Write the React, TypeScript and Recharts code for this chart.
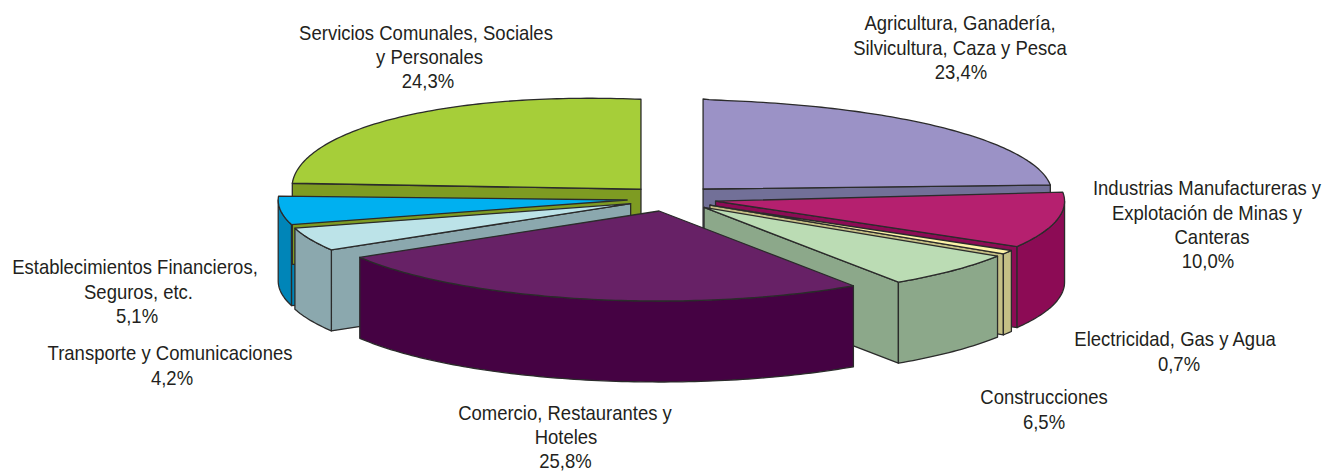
import React from "react";
import { PieChart, Pie } from "recharts";

const categories = [
  "Agricultura, Ganadería, Silvicultura, Caza y Pesca",
  "Industrias Manufactureras y Explotación de Minas y Canteras",
  "Electricidad, Gas y Agua",
  "Construcciones",
  "Comercio, Restaurantes y Hoteles",
  "Transporte y Comunicaciones",
  "Establecimientos Financieros, Seguros, etc.",
  "Servicios Comunales, Sociales y Personales",
];
const values = [23.4, 10.0, 0.7, 6.5, 25.8, 4.2, 5.1, 24.3];
const valueLabels = ["23,4%", "10,0%", "0,7%", "6,5%", "25,8%", "4,2%", "5,1%", "24,3%"];
const labelLines = [
  ["Agricultura, Ganadería,", "Silvicultura, Caza y Pesca"],
  ["Industrias Manufactureras y", "Explotación de Minas y", "Canteras"],
  ["Electricidad, Gas y Agua"],
  ["Construcciones"],
  ["Comercio, Restaurantes y", "Hoteles"],
  ["Transporte y Comunicaciones"],
  ["Establecimientos Financieros,", "Seguros, etc."],
  ["Servicios Comunales, Sociales", "y Personales"],
];
const topColors = ["#9b92c6", "#b5206f", "#fdf3a8", "#bbdcb4", "#672166", "#bce3e8", "#00b0f0", "#a6ce39"];
const sideColors = ["#727098", "#8c0b55", "#c4bf85", "#8ca88a", "#450243", "#8ba8ae", "#0085b8", "#7e9b22"];

const labelAnchors = [
  [960, 30.5], [1207, 195.5], [1175, 346.5], [1044, 404.5], [565, 420], [170, 360.5], [135, 274.5], [426, 40],
];
const lineShifts = [
  [0, 0, 1],
  [0, 0, 5, 1],
  [0, 4],
  [0, 0],
  [0, 1, 0.5],
  [0, 2],
  [0, 3.5, 2],
  [0, 3.5, 2],
];
const nudges = [
  [0, 0], [-1.5, 0], [-1.5, 0], [-1, 0], [-3.5, 0], [0, 0], [0, 0], [0, 0],
];
const paintOrder: [number, string][] = [
  [0, "all"], [6, "sides"], [7, "all"], [6, "top"], [1, "all"], [5, "all"], [2, "all"], [3, "all"], [4, "all"],
];

const W = 1322, H = 471;
const CX = 672.5, CY = 198.5, RX = 349, RY = 90, DEPTH = 81, EXPLODE = 45.6, EXPLODE_Y = 12.8;
const FONT_SIZE = 20, FONT_SCALE = 0.925, LINE_GAP = 24.2;
const STROKE = "#2b2b2b";
const rad = (a: number) => (a * Math.PI) / 180;
const rows = categories.map((name, i) => ({ name, value: values[i], fill: topColors[i] }));

// The source's back slices are not true ellipses: the right one sags, the left one bulges.
function arcWarp(index: number, a: number) {
  const c = Math.cos(rad(a));
  const s = Math.sin(rad(a));
  if (s <= 0) return 0;
  if (index === 0) return -5 * Math.sqrt(Math.max(c, 0));
  if (index === 7) return -6 * Math.sin(rad(2 * a)) + 1.5 * Math.max(-c, 0);
  return 0;
}

function Slice3D(props: any, part: string, target: number) {
  const { index, startAngle, endAngle, cx, cy, outerRadius } = props;
  if (index !== target) return <g />;
  const ry = (outerRadius * RY) / RX;
  const mid = (startAngle + endAngle) / 2;
  const ax = cx + EXPLODE * Math.cos(rad(mid)) + nudges[index][0];
  const ay = cy - EXPLODE_Y * Math.sin(rad(mid)) + nudges[index][1];
  const pt = (a: number, dz = 0) => [
    ax + outerRadius * Math.cos(rad(a)),
    ay - ry * Math.sin(rad(a)) - arcWarp(index, a) + dz,
  ];
  const arc = (from: number, to: number, dz = 0) => {
    const n = Math.max(2, Math.ceil(Math.abs(from - to)));
    let d = "";
    for (let k = 0; k <= n; k++) {
      const [x, y] = pt(from + ((to - from) * k) / n, dz);
      d += `L${x.toFixed(2)} ${y.toFixed(2)}`;
    }
    return d;
  };
  const cut = (a: number) => {
    const [x, y] = pt(a);
    return `M${ax} ${ay}L${x} ${y}L${x} ${y + DEPTH}L${ax} ${ay + DEPTH}Z`;
  };
  const topPath = `M${ax} ${ay}${arc(startAngle, endAngle)}Z`;
  const a1 = Math.min(startAngle, 0);
  const a2 = Math.max(endAngle, -180);
  const sidePath = a1 > a2 ? `M${arc(a1, a2).slice(1)}${arc(a2, a1, DEPTH)}Z` : "";
  const startFaces = Math.cos(rad(startAngle)) < -1e-6;
  const endFaces = Math.cos(rad(endAngle)) > 1e-6;
  const common = { stroke: STROKE, strokeWidth: 1.3, strokeLinejoin: "round" as const };
  return (
    <g>
      {part !== "top" && (
        <>
          {startFaces && <path d={cut(startAngle)} fill={sideColors[index]} {...common} />}
          {endFaces && <path d={cut(endAngle)} fill={sideColors[index]} {...common} />}
          {sidePath && <path d={sidePath} fill={sideColors[index]} {...common} />}
        </>
      )}
      {part !== "sides" && <path d={topPath} fill={topColors[index]} {...common} />}
    </g>
  );
}

function renderLabel(props: any) {
  const i = props.index;
  const lines = [...labelLines[i], valueLabels[i]];
  const [x, y] = labelAnchors[i];
  return (
    <text
      key={i}
      textAnchor="middle"
      fontFamily="Liberation Sans"
      fontSize={FONT_SIZE}
      fill="#231f20"
      transform={`translate(${x} 0) scale(${FONT_SCALE} 1)`}
    >
      {lines.map((l, k) => (
        <tspan key={k} x={lineShifts[i][k] / FONT_SCALE} y={y + k * LINE_GAP}>{l}</tspan>
      ))}
    </text>
  );
}

export default function App() {
  return (
    <div style={{ position: "absolute", left: 0, top: 0, width: W, height: H, background: "#fff" }}>
      <PieChart width={W} height={H} margin={{ top: 0, right: 0, bottom: 0, left: 0 }}>
        {paintOrder.map(([idx, part], n) => (
          <Pie
            key={n}
            data={rows}
            dataKey="value"
            nameKey="name"
            cx={CX}
            cy={CY}
            innerRadius={0}
            outerRadius={RX}
            startAngle={90}
            endAngle={-270}
            paddingAngle={0}
            stroke="none"
            isAnimationActive={false}
            legendType="none"
            shape={(p: any) => Slice3D(p, part, idx)}
            label={n === paintOrder.length - 1 ? renderLabel : false}
            labelLine={false}
          />
        ))}
      </PieChart>
    </div>
  );
}
